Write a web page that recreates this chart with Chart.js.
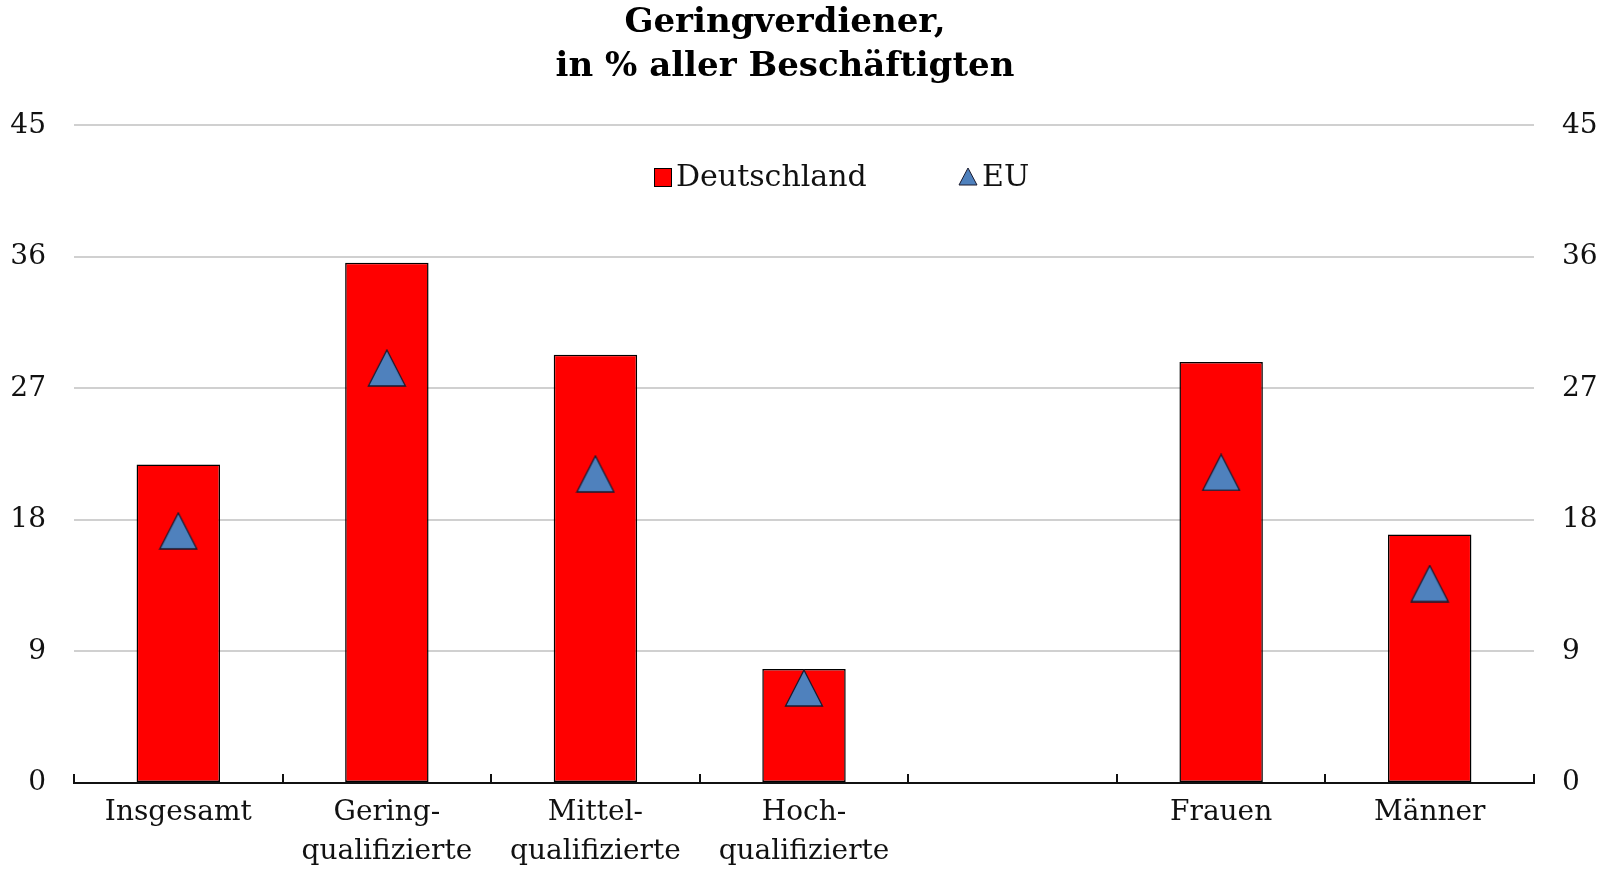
<!DOCTYPE html>
<html>
<head>
<meta charset="utf-8">
<script src="https://cdn.jsdelivr.net/npm/chart.js@4/dist/chart.umd.min.js"></script>
<style>
  body { margin: 0; background: #fff; }
  #wrap { position: relative; width: 1607px; height: 869px; }
  .legend { position: absolute; top: 158px; left: 0; width: 1607px; font-family: "DejaVu Serif", serif; font-size: 30px; color: #111; }
  .legend span.item { position: absolute; top: 0; white-space: nowrap; }
  .box { display: inline-block; width: 16px; height: 17px; background: #ff0000; border: 1px solid #000; vertical-align: -1px; margin-right: 4px; }
  .tri { display: inline-block; vertical-align: 0px; margin-right: 4px; }
</style>
</head>
<body>
<div id="wrap">
  <canvas id="chart" width="1607" height="869"></canvas>
  <div class="legend">
    <span class="item" style="left:654px"><span class="box"></span>Deutschland</span>
    <span class="item" style="left:958px"><svg class="tri" width="20" height="19"><polygon points="10,1 19,18 1,18" fill="#4f81bd" stroke="#1a1a2e" stroke-width="1"/></svg>EU</span>
  </div>
</div>
<script>
// ===== Data =====
const categories = [
  'Insgesamt',
  ['Gering-', 'qualifizierte'],
  ['Mittel-', 'qualifizierte'],
  ['Hoch-', 'qualifizierte'],
  '',
  'Frauen',
  'Männer'
];
const germanyValues = [21.8, 35.6, 29.3, 7.8, null, 28.8, 17.0];
const euValues = [17.25, 28.4, 21.15, 6.5, null, 21.25, 13.65];
const yTicks = [0, 9, 18, 27, 36, 45];

// ===== Triangle marker =====
function makeTriangle() {
  const c = document.createElement('canvas');
  c.width = 40;
  c.height = 38;
  const ctx = c.getContext('2d');
  ctx.beginPath();
  ctx.moveTo(20, 1);
  ctx.lineTo(38.5, 37);
  ctx.lineTo(1.5, 37);
  ctx.closePath();
  ctx.fillStyle = '#4f81bd';
  ctx.fill();
  ctx.lineWidth = 1.3;
  ctx.strokeStyle = '#1a1a2e';
  ctx.stroke();
  return c;
}

// title sits a little left of the page centre in the original
const shiftTitle = {
  id: 'shiftTitle',
  afterLayout(chart) {
    if (chart.titleBlock) chart.titleBlock.right -= 37;
  }
};

const serif = '"DejaVu Serif", serif';
const tickFont = { family: serif, size: 28 };

const yScale = (position) => ({
  position: position,
  min: 0,
  max: 45,
  afterBuildTicks: scale => { scale.ticks = yTicks.map(v => ({ value: v })); },
  afterFit: scale => { scale.width = position === 'left' ? 74 : 73; },
  grid: { display: position === 'left', color: '#d0d0d0', lineWidth: 2, drawTicks: false },
  border: { display: false },
  ticks: { font: tickFont, color: '#111', padding: 28 }
});

new Chart(document.getElementById('chart'), {
  type: 'bar',
  data: {
    labels: categories,
    datasets: [
      {
        type: 'line',
        label: 'EU',
        data: euValues,
        showLine: false,
        pointStyle: makeTriangle(),
        order: 0
      },
      {
        label: 'Deutschland',
        data: germanyValues,
        backgroundColor: '#ff0000',
        borderColor: '#000',
        borderWidth: 1.5,
        borderSkipped: false,
        barPercentage: 0.4,
        categoryPercentage: 1,
        order: 1
      }
    ]
  },
  plugins: [shiftTitle],
  options: {
    responsive: false,
    animation: false,
    layout: { padding: 0 },
    plugins: {
      legend: { display: false },
      tooltip: { enabled: false },
      title: {
        display: true,
        text: ['Geringverdiener,', 'in % aller Beschäftigten'],
        font: { family: serif, size: 34, weight: 'bold', lineHeight: 1.27 },
        color: '#000',
        padding: { top: 2, bottom: 37 }
      }
    },
    scales: {
      x: {
        afterFit: scale => { scale.height = 86; },
        grid: { offset: true, drawOnChartArea: false, color: '#111', lineWidth: 2, tickLength: -9 },
        border: { display: true, color: '#111', width: 2 },
        ticks: { font: { family: serif, size: 28, lineHeight: 1.37 }, color: '#111', padding: 20, maxRotation: 0, autoSkip: false }
      },
      y: yScale('left'),
      y2: yScale('right')
    }
  }
});
</script>
</body>
</html>
